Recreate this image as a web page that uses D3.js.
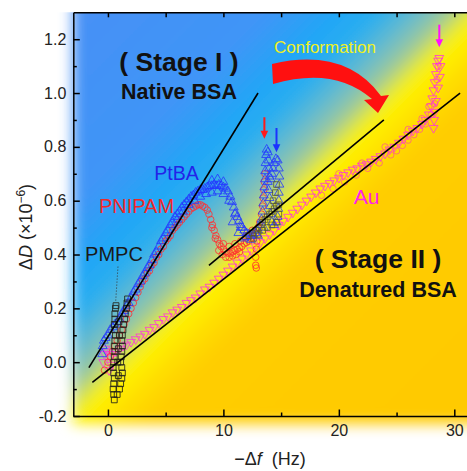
<!DOCTYPE html>
<html><head><meta charset="utf-8">
<script src="https://cdn.jsdelivr.net/npm/d3@7"></script>
<style>
body{margin:0;background:#fff}
svg{display:block}
text{font-family:"Liberation Sans",Arial,Helvetica,sans-serif}
</style>
</head><body>
<svg id="c" width="467" height="471"></svg>
<script>
// ---------- data ----------
const ptba = [[-0.5,0.03],[-0.45,0.06],[-0.35,0.08],[-0.2,0.09],[0.0,0.1],[0.2,0.12],[0.4,0.13],[0.6,0.14],[0.8,0.15],[1.0,0.16],[1.2,0.18],[1.4,0.19],[1.6,0.21],[1.8,0.22],[2.0,0.24],[2.2,0.26],[2.4,0.27],[2.6,0.29],[2.8,0.3],[3.0,0.32],[3.2,0.33],[3.4,0.35],[3.6,0.36],[3.8,0.38],[4.0,0.4],[4.2,0.41],[4.4,0.43],[4.6,0.45],[4.8,0.46],[5.0,0.48],[5.2,0.49],[5.4,0.51],[5.6,0.52],[5.8,0.54],[6.0,0.55],[6.2,0.56],[6.4,0.575],[6.6,0.585],[6.8,0.595],[7.0,0.605],[7.2,0.615],[7.4,0.62],[7.6,0.63],[7.8,0.635],[8.0,0.64],[8.2,0.64],[8.4,0.645],[8.6,0.65],[8.8,0.655],[9.0,0.655],[9.2,0.66],[9.4,0.655],[9.6,0.66],[9.8,0.655],[10.0,0.65],[10.2,0.645],[10.4,0.635],[10.6,0.615],[10.75,0.595],[10.9,0.575],[11.05,0.555],[11.2,0.54],[11.35,0.525],[11.5,0.51],[11.65,0.5],[11.8,0.49],[12.0,0.48],[12.2,0.475],[12.4,0.47],[12.6,0.475],[12.8,0.48],[13.0,0.49],[13.15,0.51],[13.3,0.53],[13.4,0.56],[13.45,0.59],[13.5,0.62],[13.55,0.65],[13.6,0.68],[13.62,0.71],[13.65,0.74],[13.7,0.77],[13.75,0.79],[13.85,0.78],[13.9,0.75],[13.95,0.72],[14.0,0.69],[14.1,0.68],[14.2,0.7],[14.3,0.72],[14.4,0.74],[14.55,0.755],[14.7,0.75],[14.8,0.72],[14.85,0.69],[14.85,0.66],[14.8,0.63],[14.8,0.6],[14.75,0.57],[14.7,0.54],[14.6,0.52],[14.4,0.51],[14.2,0.52],[14.1,0.55],[14.05,0.58],[14.0,0.61],[13.9,0.64],[13.85,0.67],
  [6.0,0.53],[6.5,0.56],[7.0,0.585],[7.5,0.6],[8.0,0.615],[8.5,0.625],[9.0,0.63],[9.5,0.635],[10.0,0.625],[10.5,0.6],[11.0,0.55],[11.5,0.5],[12.0,0.465],[9.0,0.675],[9.5,0.68],[10.0,0.67],[10.8,0.52],[11.3,0.48],[11.8,0.46],[12.4,0.455],[13.0,0.47],[13.5,0.5]];
const pnipam = [[-0.3,-0.03],[0.0,0.0],[0.2,0.02],[0.4,0.04],[0.6,0.06],[0.8,0.08],[1.0,0.1],[1.2,0.12],[1.4,0.14],[1.6,0.16],[1.8,0.18],[2.0,0.2],[2.2,0.22],[2.4,0.24],[2.6,0.26],[2.8,0.28],[3.0,0.3],[3.2,0.31],[3.4,0.33],[3.6,0.34],[3.8,0.36],[4.0,0.37],[4.2,0.39],[4.4,0.4],[4.6,0.42],[4.8,0.43],[5.0,0.45],[5.2,0.46],[5.4,0.47],[5.6,0.49],[5.8,0.5],[6.0,0.51],[6.2,0.52],[6.4,0.53],[6.6,0.54],[6.8,0.55],[7.0,0.56],[7.2,0.57],[7.4,0.575],[7.6,0.58],[7.8,0.585],[8.0,0.585],[8.2,0.58],[8.4,0.575],[8.6,0.565],[8.75,0.55],[8.9,0.53],[9.05,0.51],[9.2,0.49],[9.35,0.47],[9.5,0.455],[9.65,0.44],[9.8,0.43],[10.0,0.42],[10.2,0.41],[10.4,0.405],[10.6,0.405],[10.8,0.41],[11.0,0.415],[11.2,0.42],[11.4,0.425],[11.6,0.43],[11.8,0.44],[12.0,0.445],[12.2,0.45],[12.4,0.46],[12.6,0.47],[12.8,0.48],[12.9,0.45],[12.85,0.42],[12.8,0.39],[12.8,0.36],[12.85,0.35],[13.0,0.5],[13.15,0.52],[13.3,0.55],[13.4,0.58],[13.45,0.61],[13.5,0.64],[13.55,0.67],[13.6,0.7],
  [9.6,0.415],[9.9,0.4],[10.2,0.39],[10.5,0.39],[10.8,0.395],[11.1,0.4],[11.4,0.41],[9.0,0.5],[9.3,0.46],[10.0,0.44],[10.5,0.43],[11.0,0.44],[11.5,0.45],[12.0,0.47],[12.5,0.49]];
const pmpc = [[0.55,-0.14],[0.5,-0.12],[0.45,-0.1],[0.5,-0.08],[0.55,-0.06],[0.5,-0.04],[0.45,-0.02],[0.5,0.0],[0.55,0.02],[0.6,0.04],[0.55,0.06],[0.6,0.08],[0.65,0.1],[0.6,0.12],[0.55,0.14],[0.6,0.16],[0.6,0.18],[0.65,0.2],[0.7,0.21],[1.0,-0.1],[1.1,-0.08],[1.2,-0.06],[1.25,-0.04],[1.2,-0.02],[1.1,0.0],[1.15,0.02],[1.2,0.04],[1.25,0.06],[1.2,0.08],[1.25,0.1],[1.3,0.12],[1.35,0.14],[1.45,0.16],[1.5,0.18],[1.6,0.2],[1.65,0.22],[1.7,0.235],[0.8,-0.12],[0.9,-0.05],[0.85,0.0],[0.9,0.05],[1.0,0.1],[0.95,0.15]];
const pmpcLate = [[12.2,0.47],[12.5,0.48],[12.8,0.49],[13.1,0.5],[13.4,0.52],[13.6,0.53],[13.8,0.54],[14.0,0.55],[14.2,0.56],[14.4,0.57],[14.6,0.58],[14.8,0.585],[12.6,0.46],[13.0,0.475],[13.4,0.49],[13.8,0.5],[14.2,0.51],[14.6,0.52],[14.8,0.55],[14.3,0.6],[14.5,0.63],[14.6,0.66]];
const au = [[-0.4,0.0],[-0.3,0.03],[-0.2,0.05],[0.0,0.04],[0.2,0.02],[0.3,-0.01],[0.1,-0.03],[0.4,0.03],[0.7,0.04],[1.0,0.05],[1.3,0.06],[1.6,0.065],[2.0,0.075],[2.4,0.085],[2.8,0.095],[3.2,0.105],[3.6,0.12],[4.0,0.13],[4.4,0.145],[4.8,0.16],[5.2,0.17],[5.6,0.185],[6.0,0.195],[6.4,0.205],[6.8,0.22],[7.2,0.23],[7.6,0.24],[8.0,0.255],[8.4,0.27],[8.8,0.28],[9.2,0.295],[9.6,0.31],[10.0,0.325],[10.4,0.34],[10.8,0.355],[11.2,0.37],[11.6,0.385],[12.0,0.4],[12.4,0.415],[12.8,0.43],[13.2,0.445],[13.6,0.46],[14.0,0.475],[14.4,0.49],[14.8,0.51],[15.2,0.525],[15.6,0.54],[16.0,0.555],[16.4,0.57],[16.8,0.585],[17.2,0.6],[17.6,0.615],[18.0,0.63],[18.4,0.645],[18.8,0.655],[19.2,0.665],[19.6,0.675],[20.0,0.685],[20.4,0.695],[20.8,0.705],[21.2,0.715],[21.6,0.72],[22.0,0.73],[22.4,0.735],[22.8,0.745],[23.2,0.755],[23.6,0.765],[24.0,0.775],[24.4,0.79],[24.8,0.8],[25.2,0.815],[25.6,0.83],[26.0,0.845],[26.4,0.86],[26.8,0.87],[27.2,0.885],[27.5,0.9],[27.8,0.92],[28.0,0.95],[28.1,0.98],[28.2,1.01],[28.3,1.04],[28.4,1.07],[28.5,1.1],[28.6,1.12],[28.7,1.13],[28.4,0.97],[28.3,0.93],[28.25,0.9],[28.2,0.87],[28.6,1.02],[28.75,1.06],[28.8,1.1]];
const auCircles = [[18.5,0.62],[19.5,0.645],[20.5,0.67],[21.5,0.695],[22.5,0.72],[23.5,0.74],[24.5,0.77],[25.0,0.785],[25.5,0.805],[26.0,0.825],[26.5,0.845],[27.0,0.865],[27.5,0.885],[28.0,0.92],[28.3,0.96],[28.5,1.05],[28.6,1.1],[20.0,0.7],[22.0,0.74],[24.0,0.8],[26.0,0.865],[27.2,0.905],[27.8,0.95]];
const fitLines = [[[-1.65,-0.02],[13.0,1.0]],[[8.75,0.36],[23.9,0.9]],[[-1.35,-0.075],[30.5,1.0]]];
const xTicks = [0,10,20,30];
const xTickLabels = ["0","10","20","30"];
const xMinor = [5,15,25];
const yTicks = [-0.2,0.0,0.2,0.4,0.6,0.8,1.0,1.2];
const yTickLabels = ["-0.2","0.0","0.2","0.4","0.6","0.8","1.0","1.2"];
const yMinor = [-0.1,0.1,0.3,0.5,0.7,0.9,1.1];
// small arrows: [x, yFrom, yTo, color]
const markArrows = [[13.55,0.91,0.83,"#ff1a1a"],[14.6,0.87,0.78,"#1a33ff"],[28.7,1.254,1.17,"#ff10ff"]];

// ---------- scales ----------
const x = d3.scaleLinear().domain([-3,31.1]).range([73.3,467]);
const y = d3.scaleLinear().domain([-0.2,1.3]).range([416,12.3]);
const svg = d3.select("#c");
const defs = svg.append("defs");

// background gradient
const lg = defs.append("linearGradient").attr("id","bg").attr("gradientUnits","userSpaceOnUse")
  .attr("x1",0).attr("y1",0).attr("x2",500).attr("y2",500);
[[0,"#4a8ef5"],[0.28,"#3f95f7"],[0.35,"#22a6f6"],[0.39,"#2aaef0"],[0.43,"#68bbcc"],[0.46,"#9ec99a"],[0.485,"#e8ea30"],[0.5,"#fff200"],[0.525,"#ffe300"],[0.57,"#ffcd00"],[1,"#ffc800"]]
  .forEach(s=>lg.append("stop").attr("offset",s[0]).attr("stop-color",s[1]));
const f = defs.append("filter").attr("id","blur").attr("filterUnits","userSpaceOnUse")
  .attr("x",0).attr("y",-100).attr("width",700).attr("height",650);
f.append("feGaussianBlur").attr("stdDeviation",7);
defs.append("clipPath").attr("id","topclip").append("rect").attr("x",0).attr("y",12.3).attr("width",467).attr("height",460);
svg.append("g").attr("clip-path","url(#topclip)")
  .append("rect").attr("x",73).attr("y",-40).attr("width",474).attr("height",464)
  .attr("fill","url(#bg)").attr("filter","url(#blur)");

// ---------- series ----------
const plot = svg.append("g");
function drawSeries(data, type, size, color, rot, op){
  plot.append("g").selectAll("path").data(data).join("path")
    .attr("d", d3.symbol().type(type).size(size))
    .attr("transform", d=>`translate(${x(d[0])},${y(d[1])})${rot?" rotate(180)":""}`)
    .attr("fill","none").attr("stroke",color).attr("stroke-width",0.9).attr("stroke-opacity",op);
}
drawSeries(auCircles, d3.symbolCircle, 32, "#ff5a8a", false, 0.85);
drawSeries(au, d3.symbolTriangle, 34, "#ff33dd", true, 0.9);
drawSeries(pnipam, d3.symbolCircle, 34, "#ff3030", false, 0.9);
drawSeries(ptba, d3.symbolTriangle, 34, "#2438ff", false, 0.9);
drawSeries(pmpc, d3.symbolSquare, 34, "#22221a", false, 0.95);
drawSeries(pmpcLate, d3.symbolSquare, 32, "#5a5a22", false, 0.85);

// PMPC dotted leader
plot.append("line").attr("x1",x(0.87)).attr("y1",y(0.355)).attr("x2",x(0.67)).attr("y2",y(0.225))
  .attr("stroke","#333").attr("stroke-width",1).attr("stroke-dasharray","1,2");

// fit lines
plot.selectAll(".fit").data(fitLines).join("line").attr("class","fit")
  .attr("x1",d=>x(d[0][0])).attr("y1",d=>y(d[0][1])).attr("x2",d=>x(d[1][0])).attr("y2",d=>y(d[1][1]))
  .attr("stroke","#000").attr("stroke-width",1.6);

// small arrows
markArrows.forEach(a=>{
  const px=x(a[0]), y0=y(a[1]), y1=y(a[2]);
  plot.append("line").attr("x1",px).attr("x2",px).attr("y1",y0).attr("y2",y1-7).attr("stroke",a[3]).attr("stroke-width",2);
  plot.append("path").attr("d",`M${px-3.8},${y1-8}L${px+3.8},${y1-8}L${px},${y1}Z`).attr("fill",a[3]);
});

// big conformation arrow
svg.append("path").attr("d","M272,64 Q345,47 381,96 L389,95 L378,113 L364,100 L372,99 Q334,66 273,84 Z").attr("fill","#ff1010");

// ---------- axes ----------
const fs = 16;
function styleAxis(g){
  g.attr("font-family",null).attr("font-size",fs);
  g.selectAll("path,line").attr("stroke","#000").attr("stroke-width",1.5);
  g.selectAll("text").attr("fill","#222");
}
svg.append("g").attr("transform",`translate(0,${y(-0.2)})`)
  .call(d3.axisBottom(x).tickValues(xTicks).tickFormat((d,i)=>xTickLabels[i]).tickSize(-6.5).tickSizeOuter(0).tickPadding(9))
  .call(styleAxis);
svg.append("g").attr("transform",`translate(0,${y(-0.2)})`)
  .call(d3.axisBottom(x).tickValues(xMinor).tickFormat("").tickSize(-3.5).tickSizeOuter(0))
  .call(styleAxis).select(".domain").remove();
svg.append("g").attr("transform",`translate(${x(-3)},0)`)
  .call(d3.axisLeft(y).tickValues(yTicks).tickFormat((d,i)=>yTickLabels[i]).tickSize(-6.5).tickSizeOuter(0).tickPadding(7))
  .call(styleAxis);
svg.append("g").attr("transform",`translate(${x(-3)},0)`)
  .call(d3.axisLeft(y).tickValues(yMinor).tickFormat("").tickSize(-3.5).tickSizeOuter(0))
  .call(styleAxis).select(".domain").remove();
svg.append("g").attr("transform",`translate(0,${y(1.3)})`)
  .call(d3.axisTop(x).tickValues(xTicks.concat(xMinor)).tickFormat("").tickSize(-5).tickSizeOuter(0))
  .call(styleAxis);

// axis titles
const xl = svg.append("text").attr("x",270).attr("y",465).attr("text-anchor","middle").attr("font-size",18).attr("fill","#222");
xl.append("tspan").text("\u2212\u0394");
xl.append("tspan").attr("font-style","italic").text("f");
xl.append("tspan").text("\u00a0 (Hz)");
const yl = svg.append("text").attr("transform","translate(32,227) rotate(-90)").attr("text-anchor","middle").attr("font-size",18).attr("fill","#222");
yl.append("tspan").text("\u0394");
yl.append("tspan").attr("font-style","italic").text("D");
yl.append("tspan").text(" (\u00d710");
yl.append("tspan").attr("font-size",12).attr("dy",-7).text("\u22126");
yl.append("tspan").attr("dy",7).text(")");

// annotations
function label(t,px,py,size,color,bold){
  svg.append("text").attr("x",px).attr("y",py).attr("text-anchor","middle").attr("font-size",size)
    .attr("font-weight",bold?"bold":"normal").attr("fill",color).text(t);
}
label("( Stage I )",179,71,26.5,"#111",true);
label("Native BSA",179,99,21.5,"#111",true);
label("( Stage II )",378,268,26.5,"#111",true);
label("Denatured BSA",378,297,21.5,"#111",true);
label("Conformation",325,53,17,"#f0f01e",false);
label("PtBA",176.5,180,19.5,"#2323e8",false);
label("PNIPAM",136.5,212.5,20,"#f02828",false);
label("PMPC",114,261,20,"#1a1a1a",false);
label("Au",366.5,204,21,"#ff22ee",false);
</script>
</body></html>
